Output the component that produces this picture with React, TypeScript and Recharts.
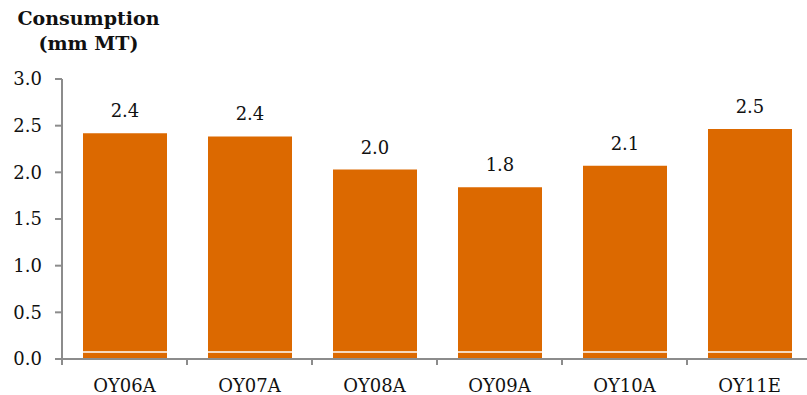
import React from 'react';
import { BarChart, Bar, XAxis, YAxis, ReferenceLine, LabelList } from 'recharts';

// Consumption per oil year, in million metric tonnes
const categories = ['OY06A', 'OY07A', 'OY08A', 'OY09A', 'OY10A', 'OY11E'];
const consumption = [2.42, 2.385, 2.03, 1.84, 2.07, 2.465];
const yTicks = [0, 0.5, 1.0, 1.5, 2.0, 2.5, 3.0];
const baseBand = 0.075;

const data = categories.map((name, i) => ({ name, value: consumption[i] }));

const FONT = '"DejaVu Serif", Georgia, serif';
const AXIS = '#8C8C8C';
const BAR = '#DC6900';
const LABEL_GAP = 20;
const EDGE_TICK = 6;

// Category label plus a small tick mark at the left edge of each band
const CategoryTick = (props: any) => {
  const { x, y, payload, index, visibleTicksCount } = props;
  const half = payload?.offset ?? 0;
  const axisY = y - LABEL_GAP;
  const isLast = index === visibleTicksCount - 1;
  return (
    <g>
      <line x1={x - half} x2={x - half} y1={axisY} y2={axisY + EDGE_TICK} stroke={AXIS} strokeWidth={2} />
      {isLast && (
        <line x1={x + half} x2={x + half} y1={axisY} y2={axisY + EDGE_TICK} stroke={AXIS} strokeWidth={2} />
      )}
      <text x={x} y={y} dy="0.71em" textAnchor="middle" fill="#111" fontSize={18} fontFamily={FONT}>
        {payload.value}
      </text>
    </g>
  );
};

export default function App() {
  return (
    <div style={{ position: 'absolute', left: 0, top: 0, width: 807, height: 395, overflow: 'hidden', background: '#fff' }}>
      <div
        style={{
          position: 'absolute',
          left: 0,
          top: 6,
          width: 177,
          textAlign: 'center',
          fontFamily: FONT,
          fontWeight: 'bold',
          fontSize: 19,
          lineHeight: '25px',
          color: '#111',
        }}
      >
        Consumption
        <br />
        (mm MT)
      </div>
      <BarChart
        width={820}
        height={395}
        data={data}
        margin={{ top: 79, right: 8, left: 0, bottom: 0 }}
        barSize={84}
      >
        <XAxis
          dataKey="name"
          height={36}
          axisLine={{ stroke: AXIS, strokeWidth: 2 }}
          tickLine={false}
          tickSize={0}
          tickMargin={LABEL_GAP}
          tick={CategoryTick}
        />
        <YAxis
          domain={[0, 3]}
          ticks={yTicks}
          width={62}
          axisLine={{ stroke: AXIS, strokeWidth: 2 }}
          tickLine={{ stroke: AXIS, strokeWidth: 2 }}
          tickSize={7}
          tickMargin={13}
          tickFormatter={(v: number) => v.toFixed(1)}
          tick={{ fill: '#111', fontSize: 18, fontFamily: FONT }}
        />
        <Bar dataKey="value" fill={BAR} isAnimationActive={false}>
          <LabelList
            dataKey="value"
            position="top"
            offset={16}
            formatter={(v: number) => v.toFixed(1)}
            style={{ fill: '#111', fontSize: 18, fontFamily: FONT }}
          />
        </Bar>
        <ReferenceLine y={baseBand} stroke="#fff" strokeWidth={1.5} />
      </BarChart>
    </div>
  );
}
